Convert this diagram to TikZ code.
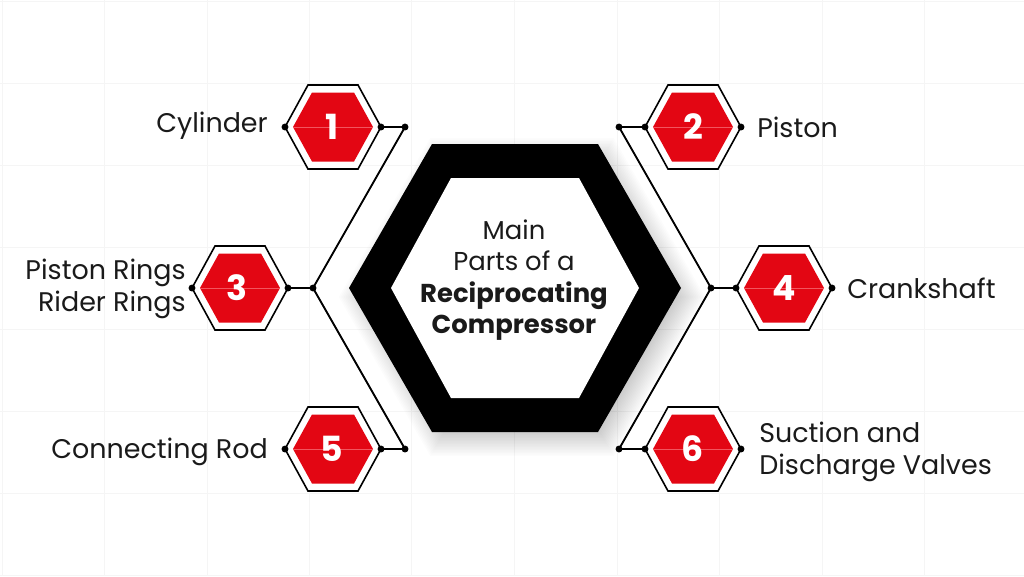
\documentclass[tikz,border=0pt]{standalone}
\usepackage{fontspec}
\setmainfont{Poppins}
\definecolor{hexred}{HTML}{E30613}
\definecolor{hexline}{HTML}{F2555E}
\definecolor{gridc}{HTML}{F5F5F5}
\definecolor{inkc}{HTML}{1A1A1A}
\tikzset{
  hexoutline/.style={draw=black,line width=1.2pt,fill=white},
  hexfill/.style={fill=hexred},
  numlabel/.style={font=\fontsize{26}{26}\selectfont\bfseries,text=white,inner sep=0pt},
  partlabel/.style={font=\fontsize{20.2}{24}\selectfont,text=inkc,inner sep=0pt},
  connector/.style={draw=black,line width=1.4pt},
  joint/.style={circle,fill=black,inner sep=0pt,minimum size=5.2pt},
  gridline/.style={draw=gridc,line width=0.6pt},
}
\newcommand{\smallhex}[5]{% name, cx, cy, number, number x
  \path[hexoutline] (#2-48,#3) -- (#2-25,#3-42) -- (#2+25,#3-42) -- (#2+48,#3) -- (#2+25,#3+42) -- (#2-25,#3+42) -- cycle;
  \path[hexfill] (#2-40,#3) -- (#2-21,#3-34.5) -- (#2+21,#3-34.5) -- (#2+40,#3) -- (#2+21,#3+34.5) -- (#2-21,#3+34.5) -- cycle;
  \draw[hexline,line width=0.4pt] (#2-40,#3) -- (#2+40,#3);
  \node[numlabel] (#1) at (#5,#3) {#4};
  \node[joint] (#1l) at (#2-48,#3) {};
  \node[joint] (#1r) at (#2+48,#3) {};
}
\begin{document}
\begin{tikzpicture}[x=0.75pt,y=-0.75pt]
\useasboundingbox (0,0) rectangle (1024,576);
\fill[white] (0,0) rectangle (1024,576);
% faint grid
\foreach \gx in {2,104,207,309,411,514,617,719,822,924}
  \draw[gridline] (\gx,0) -- (\gx,576);
\foreach \gy in {1,83,165,247,329,411,493,575}
  \draw[gridline] (0,\gy) -- (1024,\gy);
% soft shadow of the big hexagon: nested polygons, denser inwards
\begin{scope}[shift={(7,9)}]
\foreach \e in {-12,-10.5,...,15}
  \fill[black,fill opacity=0.013]
    ({349-1.15*\e},288) -- ({432-0.58*\e},{144-\e}) -- ({598+0.58*\e},{144-\e}) -- ({681+1.15*\e},288) -- ({598+0.58*\e},{432+\e}) -- ({432-0.58*\e},{432+\e}) -- cycle;
\end{scope}
% big hexagon
\fill[black] (349,288) -- (432,144) -- (598,144) -- (681,288) -- (598,432) -- (432,432) -- cycle;
\fill[white] (391,288) -- (451,178) -- (579,178) -- (639,288) -- (579,398) -- (451,398) -- cycle;
\node[align=center,inner sep=0pt,text=inkc,font=\fontsize{19.4}{23.6}\selectfont] (title) at (514,280)
  {Main\\Parts of a\\\textbf{Reciprocating}\\\textbf{Compressor}};
% small hexagons
\smallhex{h1}{333}{127}{1}{332}
\smallhex{h2}{693}{127}{2}{693}
\smallhex{h3}{240}{288}{3}{237}
\smallhex{h4}{784}{288}{4}{784}
\smallhex{h5}{333}{449}{5}{332}
\smallhex{h6}{693}{449}{6}{693}
% junctions
\node[joint] (jla) at (405,127) {};
\node[joint] (jlb) at (313,288) {};
\node[joint] (jlc) at (405,449) {};
\node[joint] (jra) at (619,127) {};
\node[joint] (jrb) at (711,288) {};
\node[joint] (jrc) at (619,449) {};
% connectors
\draw[connector] (h1r.center) -- (jla.center) -- (jlb.center) -- (jlc.center) -- (h5r.center);
\draw[connector] (h3r.center) -- (jlb.center);
\draw[connector] (h2l.center) -- (jra.center) -- (jrb.center) -- (jrc.center) -- (h6l.center);
\draw[connector] (h4l.center) -- (jrb.center);
% labels
\node[partlabel,anchor=east] (t1) at (268,126) {Cylinder};
\node[partlabel,anchor=west] (t2) at (757,127) {Piston};
\node[partlabel,anchor=east,align=right] (t3) at (186,289) {Piston Rings\\Rider Rings};
\node[partlabel,anchor=west] (t4) at (847,288) {Crankshaft};
\node[partlabel,anchor=east] (t5) at (268,452) {Connecting Rod};
\node[partlabel,anchor=west,align=left] (t6) at (759,452) {Suction and\\Discharge Valves};
\end{tikzpicture}
\end{document}
